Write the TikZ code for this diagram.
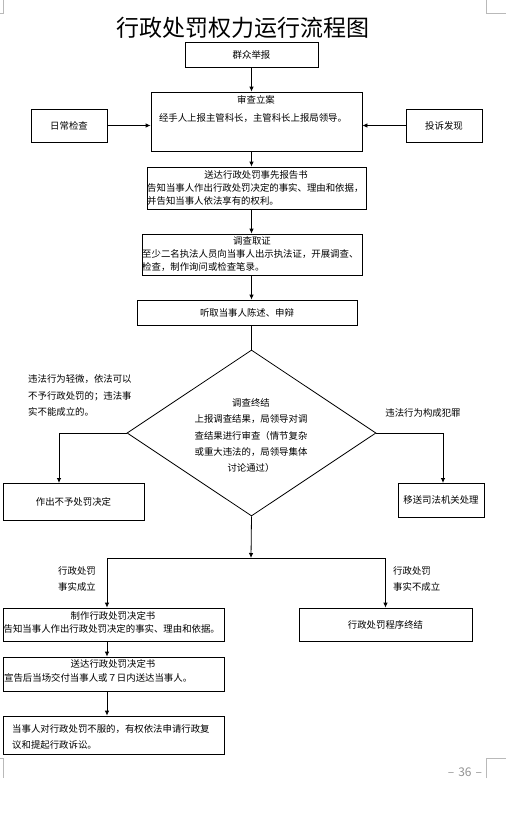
\documentclass[tikz,border=0pt]{standalone}
\usepackage{fontspec}
\setmainfont{Noto Sans CJK SC}
\usetikzlibrary{arrows.meta,shapes.geometric}
\begin{document}
\begin{tikzpicture}[x=1pt,y=-1pt,
  box/.style={draw, line width=0.8pt, inner sep=0pt, font=\fontsize{9.4}{12}\selectfont},
  arr/.style={line width=0.8pt, -{Latex[length=5pt,width=4.5pt]}},
  ln/.style={line width=0.8pt},
  txt/.style={font=\fontsize{9.4}{13}\selectfont, inner sep=0pt},
  lbl/.style={font=\fontsize{9.4}{16.4}\selectfont, inner sep=0pt, align=left, anchor=west},
  cmark/.style={draw=gray!55, line width=0.6pt}]
\useasboundingbox[fill=white] (0,0) rectangle (506,820);
% corner marks
\draw[cmark] (0,13) -- (3,13) -- (3,0);
\draw[cmark] (486,0) -- (486,13) -- (506,13);
\draw[cmark] (0,758) -- (3,758) -- (3,778);
\draw[cmark] (486,778) -- (486,758) -- (506,758);
% title
\node[inner sep=0pt, font=\fontsize{23}{23}\selectfont] (title) at (243,28) {行政处罚权力运行流程图};
% boxes
\node[box, minimum width=133, minimum height=25] (n1) at (251.5,54.5) {群众举报};
\node[box, minimum width=211, minimum height=59] (n2) at (256.5,121.5) {};
\node[txt] (n2a) at (256,100) {审查立案};
\node[txt] (n2b) at (253,118) {经手人上报主管科长，主管科长上报局领导。};
\node[box, minimum width=76, minimum height=33] (L) at (69,125.5) {日常检查};
\node[box, minimum width=76, minimum height=33] (R) at (444,125.5) {投诉发现};
\node[box, minimum width=219, minimum height=42] (n3) at (256.5,188) {};
\node[txt] (n3a) at (256,175) {送达行政处罚事先报告书};
\node[txt, anchor=west] (n3b) at (147,188) {告知当事人作出行政处罚决定的事实、理由和依据，};
\node[txt, anchor=west] (n3c) at (147,201) {并告知当事人依法享有的权利。};
\node[box, minimum width=220, minimum height=41] (n4) at (252,254.5) {};
\node[txt] (n4a) at (252,241) {调查取证};
\node[txt, anchor=west] (n4b) at (142,254) {至少二名执法人员向当事人出示执法证，开展调查、};
\node[txt, anchor=west] (n4c) at (142,267) {检查，制作询问或检查笔录。};
\node[box, minimum width=220, minimum height=25] (n5) at (247,312.5) {听取当事人陈述、申辩};
% diamond
\node[draw, diamond, line width=0.8pt, inner sep=0pt, minimum width=249, minimum height=166] (d) at (251.5,433) {};
\node[font=\fontsize{9.4}{16.3}\selectfont, inner sep=0pt, align=center] (dt) at (251,435.5)
  {调查终结\\上报调查结果，局领导对调\\查结果进行审查（情节复杂\\或重大违法的，局领导集体\\讨论通过）};
\node[lbl] (ll) at (28,395.5) {违法行为轻微，依法可以\\不予行政处罚的；违法事\\实不能成立的。};
\node[txt] (rl) at (423,413) {违法行为构成犯罪};
\node[box, minimum width=141, minimum height=37] (nL) at (73.5,501.5) {作出不予处罚决定};
\node[box, minimum width=86, minimum height=34] (nR) at (441,500) {移送司法机关处理};
% lower part
\node[box, minimum width=221, minimum height=33] (n6) at (113.5,624.5) {};
\node[txt] (n6a) at (113,616) {制作行政处罚决定书};
\node[txt, anchor=west] (n6b) at (3.5,628.5) {告知当事人作出行政处罚决定的事实、理由和依据。};
\node[box, minimum width=173, minimum height=33] (n7) at (385.5,624.5) {行政处罚程序终结};
\node[box, minimum width=221, minimum height=34] (n8) at (113.5,674) {};
\node[txt] (n8a) at (113,664) {送达行政处罚决定书};
\node[txt, anchor=west] (n8b) at (4,678) {宣告后当场交付当事人或７日内送达当事人。};
\node[box, minimum width=221, minimum height=38] (n9) at (113.5,735) {};
\node[lbl, font=\fontsize{9.4}{16}\selectfont] (n9t) at (12,737) {当事人对行政处罚不服的，有权依法申请行政复\\议和提起行政诉讼。};
\node[lbl] (fl) at (58,579) {行政处罚\\事实成立};
\node[lbl] (fr) at (393,579) {行政处罚\\事实不成立};
\node[inner sep=0pt, text=gray!85, font=\fontsize{12}{12}\selectfont] (pg) at (465,772) {–\,\,36\,\,–};
% coordinates
\coordinate (cl) at (59,483);
\coordinate (cr) at (443,483);
\coordinate (j) at (251,558);
\coordinate (jl) at (107,558);
\coordinate (jr) at (385.5,558);
% connectors
\draw[arr] (n1.south) -- (n1.south |- n2.north);
\draw[arr] (L.east) -- (L.east -| n2.west);
\draw[arr] (R.west) -- (R.west -| n2.east);
\draw[arr] (n2.south -| n1.south) -- (n1.south |- n3.north);
\draw[arr] (n3.south -| n1.south) -- (n1.south |- n4.north);
\draw[arr] (n4.south -| n1.south) -- (n1.south |- n5.north);
\draw[ln] (n5.south -| d.north) -- (d.north);
\draw[arr] (d.west) -| (cl);
\draw[arr] (d.east) -| (cr);
\draw[arr] (d.south) -- (j);
\draw[ln] (jl) -- (jr);
\draw[arr] (jl) -- (jl |- n6.north);
\draw[arr] (jr) -- (n7.north);
\draw[arr] (jl |- n6.south) -- (jl |- n8.north);
\draw[arr] (jl |- n8.south) -- (jl |- n9.north);
\end{tikzpicture}
\end{document}
